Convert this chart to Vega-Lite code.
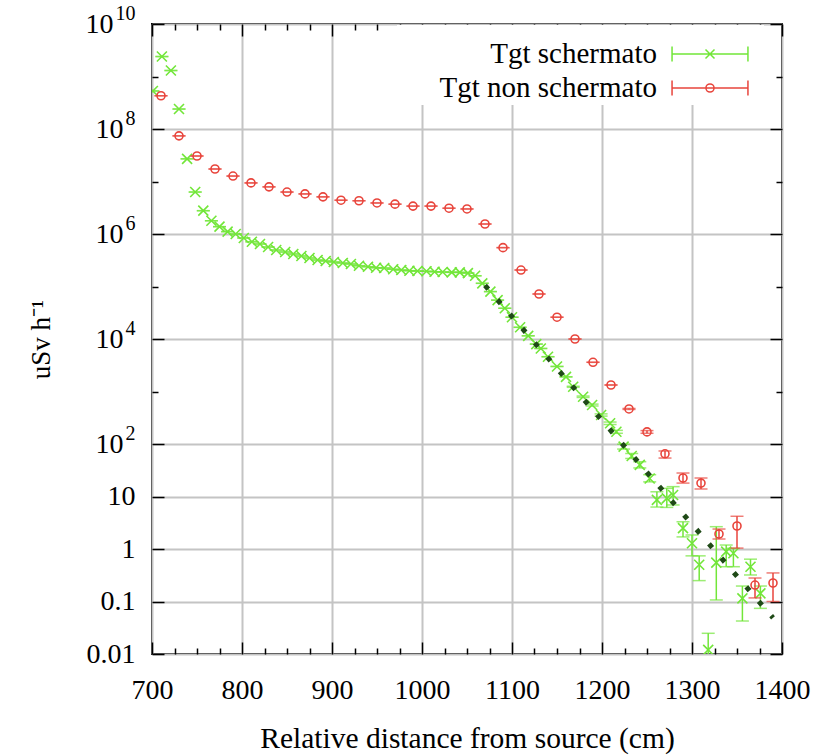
{
  "$schema": "https://vega.github.io/schema/vega-lite/v6.json",
  "width": 630,
  "height": 630,
  "autosize": {"type": "none"},
  "padding": {"left": 152, "top": 24, "right": 37, "bottom": 102},
  "background": "white",
  "config": {
    "view": {"stroke": "black", "strokeWidth": 2},
    "font": "Liberation Serif",
    "axis": {"labelFont": "Liberation Serif", "titleFont": "Liberation Serif", "labelColor": "black", "titleColor": "black", "titleFontWeight": "normal", "domain": false, "gridColor": "#c4c4c4", "gridWidth": 2, "gridOpacity": 1, "tickColor": "black", "tickWidth": 1.5}
  },
  "datasets": {
    "pts": [
      {"s": "Tgt schermato", "x": 701, "y": 5.3e8, "lo": 5.3e8, "hi": 5.3e8},
      {"s": "Tgt schermato", "x": 711, "y": 2.4e9, "lo": 2.4e9, "hi": 2.4e9},
      {"s": "Tgt schermato", "x": 721, "y": 1.3e9, "lo": 1.3e9, "hi": 1.3e9},
      {"s": "Tgt schermato", "x": 730, "y": 2.4e8, "lo": 2.4e8, "hi": 2.4e8},
      {"s": "Tgt schermato", "x": 739, "y": 2.7e7, "lo": 2.7e7, "hi": 2.7e7},
      {"s": "Tgt schermato", "x": 748, "y": 6.3e6, "lo": 6.3e6, "hi": 6.3e6},
      {"s": "Tgt schermato", "x": 757, "y": 2.78e6, "lo": 2.78e6, "hi": 2.78e6},
      {"s": "Tgt schermato", "x": 766, "y": 1.79e6, "lo": 1.79e6, "hi": 1.79e6},
      {"s": "Tgt schermato", "x": 775, "y": 1.38e6, "lo": 1.38e6, "hi": 1.38e6},
      {"s": "Tgt schermato", "x": 784, "y": 1.11e6, "lo": 1.11e6, "hi": 1.11e6},
      {"s": "Tgt schermato", "x": 793, "y": 1.0e6, "lo": 1.0e6, "hi": 1.0e6},
      {"s": "Tgt schermato", "x": 802, "y": 8.4e5, "lo": 8.4e5, "hi": 8.4e5},
      {"s": "Tgt schermato", "x": 811, "y": 7.1e5, "lo": 7.1e5, "hi": 7.1e5},
      {"s": "Tgt schermato", "x": 820, "y": 6.45e5, "lo": 6.45e5, "hi": 6.45e5},
      {"s": "Tgt schermato", "x": 829, "y": 5.65e5, "lo": 5.65e5, "hi": 5.65e5},
      {"s": "Tgt schermato", "x": 838, "y": 4.95e5, "lo": 4.95e5, "hi": 4.95e5},
      {"s": "Tgt schermato", "x": 848, "y": 4.54e5, "lo": 4.54e5, "hi": 4.54e5},
      {"s": "Tgt schermato", "x": 857, "y": 4.16e5, "lo": 4.16e5, "hi": 4.16e5},
      {"s": "Tgt schermato", "x": 866, "y": 3.81e5, "lo": 3.81e5, "hi": 3.81e5},
      {"s": "Tgt schermato", "x": 875, "y": 3.49e5, "lo": 3.49e5, "hi": 3.49e5},
      {"s": "Tgt schermato", "x": 884, "y": 3.2e5, "lo": 3.2e5, "hi": 3.2e5},
      {"s": "Tgt schermato", "x": 893, "y": 3.06e5, "lo": 3.06e5, "hi": 3.06e5},
      {"s": "Tgt schermato", "x": 902, "y": 2.93e5, "lo": 2.93e5, "hi": 2.93e5},
      {"s": "Tgt schermato", "x": 912, "y": 2.8e5, "lo": 2.8e5, "hi": 2.8e5},
      {"s": "Tgt schermato", "x": 921, "y": 2.68e5, "lo": 2.68e5, "hi": 2.68e5},
      {"s": "Tgt schermato", "x": 930, "y": 2.49e5, "lo": 2.49e5, "hi": 2.49e5},
      {"s": "Tgt schermato", "x": 940, "y": 2.38e5, "lo": 2.38e5, "hi": 2.38e5},
      {"s": "Tgt schermato", "x": 949, "y": 2.28e5, "lo": 2.28e5, "hi": 2.28e5},
      {"s": "Tgt schermato", "x": 958, "y": 2.25e5, "lo": 2.25e5, "hi": 2.25e5},
      {"s": "Tgt schermato", "x": 968, "y": 2.13e5, "lo": 2.13e5, "hi": 2.13e5},
      {"s": "Tgt schermato", "x": 977, "y": 2.06e5, "lo": 2.06e5, "hi": 2.06e5},
      {"s": "Tgt schermato", "x": 986, "y": 2.0e5, "lo": 2.0e5, "hi": 2.0e5},
      {"s": "Tgt schermato", "x": 995, "y": 1.97e5, "lo": 1.97e5, "hi": 1.97e5},
      {"s": "Tgt schermato", "x": 1005, "y": 1.95e5, "lo": 1.95e5, "hi": 1.95e5},
      {"s": "Tgt schermato", "x": 1014, "y": 1.91e5, "lo": 1.91e5, "hi": 1.91e5},
      {"s": "Tgt schermato", "x": 1023, "y": 1.89e5, "lo": 1.89e5, "hi": 1.89e5},
      {"s": "Tgt schermato", "x": 1033, "y": 1.86e5, "lo": 1.86e5, "hi": 1.86e5},
      {"s": "Tgt schermato", "x": 1042, "y": 1.86e5, "lo": 1.86e5, "hi": 1.86e5},
      {"s": "Tgt schermato", "x": 1051, "y": 1.8e5, "lo": 1.8e5, "hi": 1.8e5},
      {"s": "Tgt schermato", "x": 1059, "y": 1.6e5, "lo": 1.6e5, "hi": 1.6e5},
      {"s": "Tgt schermato", "x": 1067, "y": 1.15e5, "lo": 1.15e5, "hi": 1.15e5},
      {"s": "Tgt schermato", "x": 1076, "y": 8.0e4, "lo": 8.0e4, "hi": 8.0e4},
      {"s": "Tgt schermato", "x": 1084, "y": 5.5e4, "lo": 5.5e4, "hi": 5.5e4},
      {"s": "Tgt schermato", "x": 1092, "y": 3.85e4, "lo": 3.85e4, "hi": 3.85e4},
      {"s": "Tgt schermato", "x": 1100, "y": 2.6e4, "lo": 2.6e4, "hi": 2.6e4},
      {"s": "Tgt schermato", "x": 1109, "y": 1.67e4, "lo": 1.67e4, "hi": 1.67e4},
      {"s": "Tgt schermato", "x": 1118, "y": 1.15e4, "lo": 1.15e4, "hi": 1.15e4},
      {"s": "Tgt schermato", "x": 1127, "y": 8.0e3, "lo": 8.0e3, "hi": 8.0e3},
      {"s": "Tgt schermato", "x": 1132, "y": 6.6e3, "lo": 6.6e3, "hi": 6.6e3},
      {"s": "Tgt schermato", "x": 1140, "y": 4.6e3, "lo": 4.6e3, "hi": 4.6e3},
      {"s": "Tgt schermato", "x": 1150, "y": 3.0e3, "lo": 3.0e3, "hi": 3.0e3},
      {"s": "Tgt schermato", "x": 1160, "y": 1.9e3, "lo": 1.9e3, "hi": 1.9e3},
      {"s": "Tgt schermato", "x": 1168, "y": 1.23e3, "lo": 1.2e3, "hi": 1.26e3},
      {"s": "Tgt schermato", "x": 1179, "y": 796, "lo": 770, "hi": 820},
      {"s": "Tgt schermato", "x": 1189, "y": 553, "lo": 530, "hi": 575},
      {"s": "Tgt schermato", "x": 1199, "y": 357, "lo": 340, "hi": 375},
      {"s": "Tgt schermato", "x": 1209, "y": 248, "lo": 235, "hi": 262},
      {"s": "Tgt schermato", "x": 1216, "y": 171, "lo": 160, "hi": 182},
      {"s": "Tgt schermato", "x": 1224, "y": 89, "lo": 80, "hi": 99},
      {"s": "Tgt schermato", "x": 1233, "y": 59, "lo": 53, "hi": 66},
      {"s": "Tgt schermato", "x": 1242, "y": 40, "lo": 35, "hi": 46},
      {"s": "Tgt schermato", "x": 1253, "y": 22, "lo": 19, "hi": 26},
      {"s": "Tgt schermato", "x": 1261, "y": 8.6, "lo": 6.3, "hi": 12.3},
      {"s": "Tgt schermato", "x": 1272, "y": 9.2, "lo": 6.2, "hi": 14.3},
      {"s": "Tgt schermato", "x": 1279, "y": 10.7, "lo": 6.9, "hi": 15.4},
      {"s": "Tgt schermato", "x": 1290, "y": 2.5, "lo": 1.7, "hi": 3.3},
      {"s": "Tgt schermato", "x": 1300, "y": 1.29, "lo": 0.74, "hi": 1.85},
      {"s": "Tgt schermato", "x": 1308, "y": 0.5, "lo": 0.25, "hi": 0.74},
      {"s": "Tgt schermato", "x": 1318, "y": 0.012, "lo": 0.003, "hi": 0.0248},
      {"s": "Tgt schermato", "x": 1327, "y": 0.55, "lo": 0.107, "hi": 2.66},
      {"s": "Tgt schermato", "x": 1338, "y": 0.89, "lo": 0.46, "hi": 1.19},
      {"s": "Tgt schermato", "x": 1346, "y": 0.83, "lo": 0.46, "hi": 1.03},
      {"s": "Tgt schermato", "x": 1356, "y": 0.115, "lo": 0.0425, "hi": 0.197},
      {"s": "Tgt schermato", "x": 1365, "y": 0.46, "lo": 0.32, "hi": 0.64},
      {"s": "Tgt schermato", "x": 1376, "y": 0.143, "lo": 0.074, "hi": 0.197},
      {"s": "Tgt non schermato", "x": 710, "y": 4.3e8, "lo": 4.3e8, "hi": 4.3e8},
      {"s": "Tgt non schermato", "x": 730, "y": 7.4e7, "lo": 7.4e7, "hi": 7.4e7},
      {"s": "Tgt non schermato", "x": 750, "y": 3.06e7, "lo": 3.06e7, "hi": 3.06e7},
      {"s": "Tgt non schermato", "x": 770, "y": 1.73e7, "lo": 1.73e7, "hi": 1.73e7},
      {"s": "Tgt non schermato", "x": 790, "y": 1.27e7, "lo": 1.27e7, "hi": 1.27e7},
      {"s": "Tgt non schermato", "x": 810, "y": 9.4e6, "lo": 9.4e6, "hi": 9.4e6},
      {"s": "Tgt non schermato", "x": 830, "y": 7.9e6, "lo": 7.9e6, "hi": 7.9e6},
      {"s": "Tgt non schermato", "x": 850, "y": 6.3e6, "lo": 6.3e6, "hi": 6.3e6},
      {"s": "Tgt non schermato", "x": 870, "y": 5.8e6, "lo": 5.8e6, "hi": 5.8e6},
      {"s": "Tgt non schermato", "x": 890, "y": 5.1e6, "lo": 5.1e6, "hi": 5.1e6},
      {"s": "Tgt non schermato", "x": 910, "y": 4.4e6, "lo": 4.4e6, "hi": 4.4e6},
      {"s": "Tgt non schermato", "x": 930, "y": 4.3e6, "lo": 4.3e6, "hi": 4.3e6},
      {"s": "Tgt non schermato", "x": 950, "y": 3.9e6, "lo": 3.9e6, "hi": 3.9e6},
      {"s": "Tgt non schermato", "x": 970, "y": 3.7e6, "lo": 3.7e6, "hi": 3.7e6},
      {"s": "Tgt non schermato", "x": 990, "y": 3.4e6, "lo": 3.4e6, "hi": 3.4e6},
      {"s": "Tgt non schermato", "x": 1010, "y": 3.4e6, "lo": 3.4e6, "hi": 3.4e6},
      {"s": "Tgt non schermato", "x": 1030, "y": 3.1e6, "lo": 3.1e6, "hi": 3.1e6},
      {"s": "Tgt non schermato", "x": 1050, "y": 3.0e6, "lo": 3.0e6, "hi": 3.0e6},
      {"s": "Tgt non schermato", "x": 1070, "y": 1.55e6, "lo": 1.55e6, "hi": 1.55e6},
      {"s": "Tgt non schermato", "x": 1090, "y": 5.5e5, "lo": 5.5e5, "hi": 5.5e5},
      {"s": "Tgt non schermato", "x": 1110, "y": 2.06e5, "lo": 2.06e5, "hi": 2.06e5},
      {"s": "Tgt non schermato", "x": 1130, "y": 7.2e4, "lo": 7.2e4, "hi": 7.2e4},
      {"s": "Tgt non schermato", "x": 1150, "y": 2.6e4, "lo": 2.6e4, "hi": 2.6e4},
      {"s": "Tgt non schermato", "x": 1170, "y": 1.0e4, "lo": 1.0e4, "hi": 1.0e4},
      {"s": "Tgt non schermato", "x": 1190, "y": 3.6e3, "lo": 3.6e3, "hi": 3.6e3},
      {"s": "Tgt non schermato", "x": 1210, "y": 1.33e3, "lo": 1.33e3, "hi": 1.33e3},
      {"s": "Tgt non schermato", "x": 1230, "y": 465, "lo": 455, "hi": 475},
      {"s": "Tgt non schermato", "x": 1250, "y": 170, "lo": 160, "hi": 180},
      {"s": "Tgt non schermato", "x": 1270, "y": 65, "lo": 54, "hi": 73.6},
      {"s": "Tgt non schermato", "x": 1290, "y": 22.5, "lo": 18, "hi": 28},
      {"s": "Tgt non schermato", "x": 1310, "y": 18, "lo": 13.9, "hi": 22.5},
      {"s": "Tgt non schermato", "x": 1330, "y": 1.93, "lo": 1.55, "hi": 2.4},
      {"s": "Tgt non schermato", "x": 1350, "y": 2.74, "lo": 1.04, "hi": 4.2},
      {"s": "Tgt non schermato", "x": 1370, "y": 0.206, "lo": 0.117, "hi": 0.28},
      {"s": "Tgt non schermato", "x": 1390, "y": 0.225, "lo": 0.1, "hi": 0.35}
    ],
    "fit": [
      {"x": 1070, "y": 105000},
      {"x": 1390, "y": 0.049}
    ]
  },
  "layer": [
    {
      "data": {"name": "pts"},
      "transform": [{"filter": "datum.s === 'Tgt schermato'"}],
      "mark": {"type": "rule", "strokeWidth": 1.5, "clip": true},
      "encoding": {
        "x": {"field": "x", "type": "quantitative", "scale": {"domain": [700, 1400], "nice": false, "zero": false},
          "axis": {"orient": "bottom", "values": [700, 800, 900, 1000, 1100, 1200, 1300, 1400], "format": "d", "ticks": false, "labels": true, "grid": true, "labelFontSize": 28, "labelPadding": 22, "labelFlush": false, "title": "Relative distance from source (cm)", "titleFontSize": 29.5, "titlePadding": 20}},
        "y": {"field": "lo", "type": "quantitative", "scale": {"type": "log", "domain": [0.01, 1e10], "nice": false},
          "axis": {"orient": "left", "values": [0.01, 0.1, 1, 10, 100, 10000, 1000000, 100000000, 10000000000], "ticks": false, "grid": true, "labelFontSize": 28, "labelFlush": false, "labelBaseline": "middle",
            "labelPadding": {"condition": [{"test": "datum.value > 1e9", "value": 39}, {"test": "datum.value > 50", "value": 29}], "value": 17},
            "labelExpr": "datum.value > 5 ? '10' : datum.value > 0.5 ? '1' : datum.value > 0.05 ? '0.1' : '0.01'",
            "title": "uSv h⁻¹", "titleFontSize": 27, "titlePadding": 30}},
        "y2": {"field": "hi"},
        "color": {"field": "s", "type": "nominal", "scale": {"domain": ["Tgt schermato"], "range": ["#72e639"]},
          "legend": {"orient": "none", "legendX": 245, "legendY": 1, "padding": 13, "fillColor": "white", "strokeColor": null, "title": null,
            "labelFont": "Liberation Serif", "labelFontSize": 29, "labelColor": "black", "labelAlign": "right", "labelBaseline": "middle", "labelOffset": -69, "symbolOffset": 284, "symbolSize": 900, "symbolStrokeWidth": 1.5, "symbolStrokeColor": "#72e639", "symbolFillColor": "transparent", "rowPadding": 0, "labelLimit": 400,
            "symbolType": "M-2.53,0H2.53M-2.53,-0.5V0.5M2.53,-0.5V0.5M-0.3,-0.3L0.3,0.3M-0.3,0.3L0.3,-0.3"}}
      }
    },
    {
      "data": {"name": "pts"},
      "transform": [{"filter": "datum.s === 'Tgt schermato'"}],
      "mark": {"type": "tick", "orient": "horizontal", "size": 13, "thickness": 1.5, "clip": true, "color": "#72e639"},
      "encoding": {
        "x": {"field": "x", "type": "quantitative", "axis": {"orient": "bottom", "values": [700, 800, 900, 1000, 1100, 1200, 1300, 1400], "labels": false, "grid": false, "tickSize": -12, "title": null}},
        "y": {"field": "lo", "type": "quantitative", "axis": {"orient": "left", "values": [100, 10000, 1000000, 100000000, 10000000000], "ticks": false, "grid": false, "labelFontSize": 20, "labelPadding": 17, "labelAlign": "right", "labelBaseline": "middle", "labelOffset": -11, "labelFlush": false,
          "labelExpr": "datum.value > 1e9 ? '10' : datum.value > 1e7 ? '8' : datum.value > 1e5 ? '6' : datum.value > 1e3 ? '4' : '2'", "title": null}}
      }
    },
    {
      "data": {"name": "pts"},
      "transform": [{"filter": "datum.s === 'Tgt schermato'"}],
      "mark": {"type": "tick", "orient": "horizontal", "size": 13, "thickness": 1.5, "clip": true, "color": "#72e639"},
      "encoding": {
        "x": {"field": "x", "type": "quantitative", "axis": {"orient": "bottom", "values": [725, 750, 775, 825, 850, 875, 925, 950, 975, 1025, 1050, 1075, 1125, 1150, 1175, 1225, 1250, 1275, 1325, 1350, 1375], "labels": false, "grid": false, "tickSize": -6, "title": null}},
        "y": {"field": "hi", "type": "quantitative", "axis": {"orient": "left", "values": [0.01, 0.1, 1, 10, 100, 10000, 1000000, 100000000, 10000000000], "labels": false, "grid": false, "tickSize": -12, "title": null}}
      }
    },
    {
      "data": {"name": "pts"},
      "transform": [{"filter": "datum.s === 'Tgt schermato'"}],
      "mark": {"type": "point", "shape": "M-1,-1L1,1M-1,1L1,-1", "size": 100, "filled": false, "strokeWidth": 1.6, "opacity": 1, "clip": true, "color": "#72e639"},
      "encoding": {
        "x": {"field": "x", "type": "quantitative", "axis": {"orient": "top", "values": [700, 800, 900, 1000, 1100, 1200, 1300, 1400], "labels": false, "grid": false, "tickSize": -12, "title": null}},
        "y": {"field": "y", "type": "quantitative", "axis": {"orient": "left", "values": [1000, 100000, 10000000, 1000000000], "labels": false, "grid": false, "tickSize": -6, "title": null}}
      }
    },
    {
      "data": {"name": "pts"},
      "transform": [{"filter": "datum.s === 'Tgt non schermato'"}],
      "mark": {"type": "rule", "strokeWidth": 1.5, "clip": true},
      "encoding": {
        "x": {"field": "x", "type": "quantitative", "axis": {"orient": "top", "values": [725, 750, 775, 825, 850, 875, 925, 950, 975, 1025, 1050, 1075, 1125, 1150, 1175, 1225, 1250, 1275, 1325, 1350, 1375], "labels": false, "grid": false, "tickSize": -6, "title": null}},
        "y": {"field": "lo", "type": "quantitative", "axis": {"orient": "right", "values": [0.01, 0.1, 1, 10, 100, 10000, 1000000, 100000000, 10000000000], "labels": false, "grid": false, "tickSize": -12, "title": null}},
        "y2": {"field": "hi"},
        "stroke": {"field": "s", "type": "nominal", "scale": {"domain": ["Tgt non schermato"], "range": ["#e8453c"]},
          "legend": {"orient": "none", "legendX": 256, "legendY": 46, "padding": 2, "fillColor": "white", "strokeColor": null, "title": null,
            "labelFont": "Liberation Serif", "labelFontSize": 29, "labelColor": "black", "labelAlign": "right", "labelBaseline": "middle", "labelOffset": -69, "symbolOffset": 284, "symbolSize": 900, "symbolStrokeWidth": 1.5, "symbolStrokeColor": "#e8453c", "symbolFillColor": "transparent", "rowPadding": 0, "labelLimit": 400,
            "symbolType": "M-2.53,0H2.53M-2.53,-0.5V0.5M2.53,-0.5V0.5M0.27,0A0.27,0.27,0,1,1,-0.27,0A0.27,0.27,0,1,1,0.27,0"}}
      }
    },
    {
      "data": {"name": "pts"},
      "transform": [{"filter": "datum.s === 'Tgt non schermato'"}],
      "mark": {"type": "tick", "orient": "horizontal", "size": 13, "thickness": 1.5, "clip": true, "color": "#e8453c"},
      "encoding": {
        "x": {"field": "x", "type": "quantitative", "axis": null},
        "y": {"field": "lo", "type": "quantitative", "axis": {"orient": "right", "values": [1000, 100000, 10000000, 1000000000], "labels": false, "grid": false, "tickSize": -6, "title": null}}
      }
    },
    {
      "data": {"name": "pts"},
      "transform": [{"filter": "datum.s === 'Tgt non schermato'"}],
      "mark": {"type": "tick", "orient": "horizontal", "size": 13, "thickness": 1.5, "clip": true, "color": "#e8453c"},
      "encoding": {
        "x": {"field": "x", "type": "quantitative", "axis": null},
        "y": {"field": "hi", "type": "quantitative", "axis": null}
      }
    },
    {
      "data": {"name": "pts"},
      "transform": [{"filter": "datum.s === 'Tgt non schermato'"}],
      "mark": {"type": "point", "shape": "circle", "size": 64, "filled": false, "strokeWidth": 1.6, "opacity": 1, "clip": true, "color": "#e8453c"},
      "encoding": {
        "x": {"field": "x", "type": "quantitative", "axis": null},
        "y": {"field": "y", "type": "quantitative", "axis": null}
      }
    },
    {
      "data": {"name": "fit"},
      "mark": {"type": "line", "color": "#1f4a17", "strokeWidth": 5, "strokeDash": [5, 14], "clip": true},
      "encoding": {
        "x": {"field": "x", "type": "quantitative", "axis": null},
        "y": {"field": "y", "type": "quantitative", "axis": null}
      }
    }
  ],
  "resolve": {"axis": {"x": "independent", "y": "independent"}}
}
